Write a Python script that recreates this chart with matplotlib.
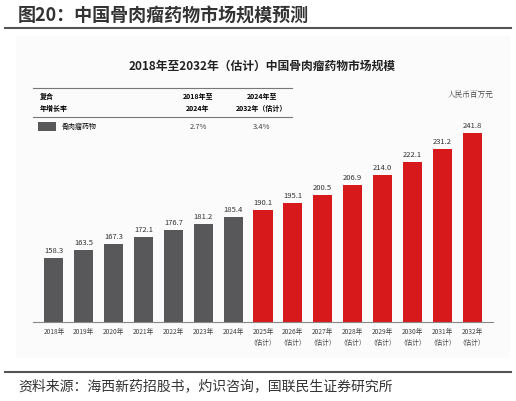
import matplotlib.pyplot as plt
from matplotlib.lines import Line2D
from matplotlib.patches import Rectangle

plt.rcParams['font.family'] = ['Noto Sans CJK SC', 'DejaVu Sans']

years = ["2018年", "2019年", "2020年", "2021年", "2022年", "2023年", "2024年",
         "2025年\n（估计）", "2026年\n（估计）", "2027年\n（估计）", "2028年\n（估计）",
         "2029年\n（估计）", "2030年\n（估计）", "2031年\n（估计）", "2032年\n（估计）"]
values = [158.3, 163.5, 167.3, 172.1, 176.7, 181.2, 185.4,
          190.1, 195.1, 200.5, 206.9, 214.0, 222.1, 231.2, 241.8]
n_actual = 7
GREY = "#58585a"
RED = "#d7191c"

fig = plt.figure(figsize=(5.16, 4.01), dpi=100)
W, H = 516, 401

def fx(px):
    return px / W

def fy(py):
    return 1 - py / H

# page header and footer
fig.text(fx(18), fy(16), "图20：中国骨肉瘤药物市场规模预测", fontsize=13, fontweight="bold",
         color="#333333", va="center")
fig.add_artist(Line2D([fx(5), fx(511)], [fy(28), fy(28)], color="#555555", lw=1.5))
fig.add_artist(Line2D([fx(5), fx(511)], [fy(372), fy(372)], color="#555555", lw=1.5))
fig.text(fx(18), fy(386), "资料来源：海西新药招股书，灼识咨询，国联民生证券研究所", fontsize=10,
         color="#333333", va="center")

# panel background
fig.add_artist(Rectangle((fx(16), fy(358)), fx(494), fy(36) - fy(358),
                         facecolor="#fbfbfb", edgecolor="none", zorder=0))
fig.text(fx(262), fy(66), "2018年至2032年（估计）中国骨肉瘤药物市场规模", fontsize=8.5,
         fontweight="bold", ha="center", va="center", color="#222222")

# CAGR table
fig.add_artist(Line2D([fx(33), fx(292)], [fy(88), fy(88)], color="#777777", lw=0.8))
fig.add_artist(Line2D([fx(33), fx(292)], [fy(117), fy(117)], color="#777777", lw=0.8))
fig.text(fx(40), fy(96), "复合", fontsize=5, fontweight="bold", va="center")
fig.text(fx(40), fy(108), "年增长率", fontsize=5, fontweight="bold", va="center")
fig.text(fx(198), fy(96), "2018年至", fontsize=5, fontweight="bold", va="center", ha="center")
fig.text(fx(198), fy(108), "2024年", fontsize=5, fontweight="bold", va="center", ha="center")
fig.text(fx(262), fy(96), "2024年至", fontsize=5, fontweight="bold", va="center", ha="center")
fig.text(fx(262), fy(108), "2032年（估计）", fontsize=5, fontweight="bold", va="center", ha="center")
fig.add_artist(Rectangle((fx(38), fy(131)), fx(18), fy(122) - fy(131), facecolor=GREY))
fig.text(fx(61), fy(127), "骨肉瘤药物", fontsize=5, va="center")
fig.text(fx(198), fy(127), "2.7%", fontsize=5.5, va="center", ha="center", color="#444444")
fig.text(fx(262), fy(127), "3.4%", fontsize=5.5, va="center", ha="center", color="#444444")
fig.text(fx(493), fy(96), "人民币百万元", fontsize=5.5, va="center", ha="right",
         color="#444444", family=["Noto Serif CJK SC", "Noto Sans CJK SC"])

# bars (value axis does not start at zero in the source)
ax = fig.add_axes([fx(33), fy(322), fx(460), fy(100) - fy(322)])
ax.set_facecolor("none")
colors = [GREY] * n_actual + [RED] * (len(values) - n_actual)
x = range(len(values))
ax.bar(x, values, width=0.64, color=colors)
for i, v in zip(x, values):
    ax.text(i, v + 2, f"{v:.1f}", ha="center", va="bottom", fontsize=5.5, color="#333333")
ax.set_xlim(-0.7, len(values) - 0.3)
ax.set_ylim(115.5, 263.8)
ax.set_yticks([])
ax.set_xticks(list(x))
ax.set_xticklabels(years, fontsize=4.8, color="#444444", linespacing=1.5)
ax.tick_params(axis="x", length=0, pad=4)
for s in ["top", "right", "left"]:
    ax.spines[s].set_visible(False)
ax.spines["bottom"].set_color("#888888")

fig.savefig("out.png", dpi=100)
